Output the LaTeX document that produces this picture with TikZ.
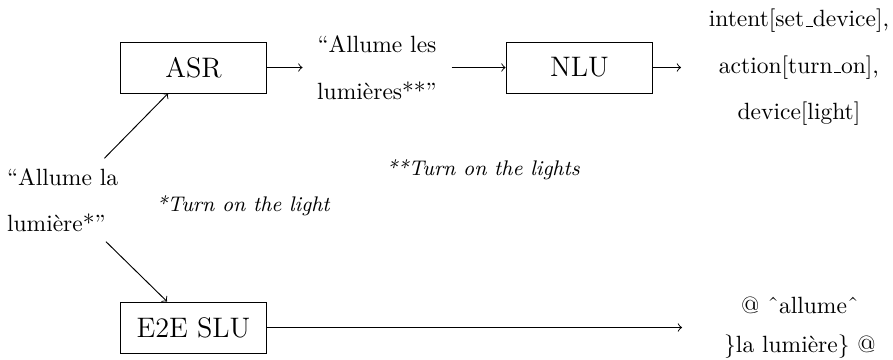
\documentclass[tikz,border=0pt]{standalone}
\newcommand{\us}{\leavevmode\kern.06em\vbox{\hrule width.3em}}
\tikzset{every picture/.style={line width=0.4pt}}
\tikzset{
  blk/.style={draw, minimum width=62.5pt, minimum height=21.7pt, font=\large},
  txt/.style={align=center, inner sep=4pt, font={\linespread{1.65}\selectfont}},
  note/.style={font=\small\itshape},
}
\begin{document}
\begin{tikzpicture}[x=0.4255pt,y=0.4255pt,yscale=-1,xscale=1]
\useasboundingbox (0,0) rectangle (893,360);

%Shape: Rectangle [ASR]
\node[blk] (asr) at (193.5,67.5) {ASR};
%Shape: Rectangle [NLU]
\node[blk] (nlu) at (579.5,67.5) {NLU};
%Shape: Rectangle [E2E SLU]
\node[blk] (e2e) at (193.5,327.5) {E2E SLU};

% Text Node
\node[txt, align=left, text width=48pt] (input) at (63.5,200) {“Allume la\\lumière*”};
% Text Node
\node[txt, text width=55pt] (asrtxt) at (377,67.5) {“Allume les\\lumières**”};
% Text Node
\node[txt, text width=92pt] (nluout) at (799,67.5) {intent[set\us device],\\action[turn\us on],\\device[light]};
% Text Node
\node[txt, text width=92pt, font={\linespread{1.4}\selectfont}] (e2eout) at (800,327.5) {@ ˆallumeˆ\\\}la lumière\} @};

% Text Node
\node[note] (note1) at (243,206) {*Turn on the light};
% Text Node
\node[note] (note2) at (483,170) {**Turn on the lights};

%Straight Lines
\draw[->] (input) -- (asr);
\draw[->] (input) -- (e2e);
\draw[->] (asr) -- (asrtxt);
\draw[->] (asrtxt) -- (nlu);
\draw[->] (nlu) -- (nluout);
\draw[->] (e2e) -- (e2eout);

\end{tikzpicture}
\end{document}
